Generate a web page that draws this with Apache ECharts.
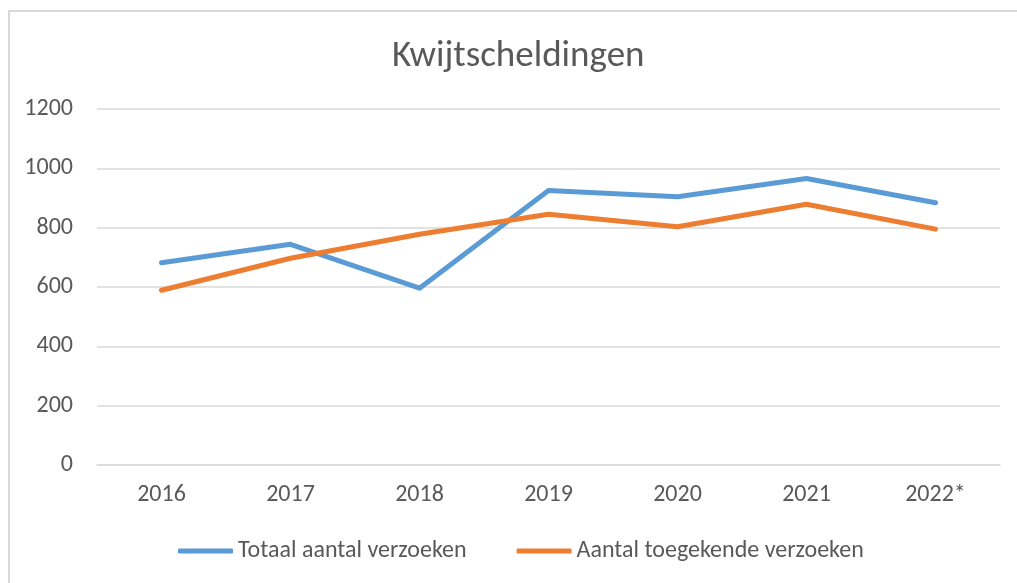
<!DOCTYPE html>
<html>
<head>
<meta charset="utf-8">
<script src="https://cdn.jsdelivr.net/npm/echarts@6/dist/echarts.min.js"></script>
<style>
  html, body { margin: 0; padding: 0; background: #fff; }
  #frame {
    position: absolute; left: 8px; top: 10px; width: 1009px; height: 573px;
    border-left: 2px solid #d9d9d9; border-top: 2px solid #d9d9d9;
  }
  #chart { position: absolute; left: 0; top: 0; width: 1017px; height: 583px; }
</style>
</head>
<body>
<div id="frame"></div>
<div id="chart"></div>
<script>
// gegevens
const years = ['2016', '2017', '2018', '2019', '2020', '2021', '2022*'];
const totaal = [682, 744, 596, 925, 904, 966, 884];
const toegekend = [589, 697, 778, 845, 803, 879, 795];
const yTicks = [0, 200, 400, 600, 800, 1000, 1200];

const textColor = '#595959';
const font = 'Carlito, "Liberation Sans", Arial, sans-serif';

const chart = echarts.init(document.getElementById('chart'));

chart.setOption({
  animation: false,
  title: {
    text: 'Kwijtscheldingen',
    left: 392,
    top: 38,
    padding: 0,
    textStyle: { fontFamily: font, fontSize: 37, fontWeight: 'normal', color: textColor }
  },
  legend: {
    left: 173,
    top: 534,
    itemWidth: 55,
    itemHeight: 5,
    itemGap: 50,
    textStyle: { fontFamily: font, fontSize: 24, color: textColor },
    data: [
      { name: 'Totaal aantal verzoeken', icon: 'roundRect' },
      { name: 'Aantal toegekende verzoeken', icon: 'roundRect' }
    ]
  },
  grid: { left: 97, right: 17, top: 109, bottom: 118 },
  xAxis: {
    type: 'category',
    data: years,
    boundaryGap: true,
    axisLine: { lineStyle: { color: '#d9d9d9', width: 1.5 } },
    axisTick: { show: false },
    axisLabel: { margin: 18, fontFamily: font, fontSize: 24, color: textColor }
  },
  yAxis: {
    type: 'value',
    min: yTicks[0],
    max: yTicks[yTicks.length - 1],
    interval: 200,
    axisLine: { show: false },
    axisTick: { show: false },
    splitLine: { lineStyle: { color: '#d9d9d9', width: 1.5 } },
    axisLabel: {
      margin: 24, fontFamily: font, fontSize: 24, color: textColor,
      formatter: v => String(v)
    }
  },
  series: [
    {
      name: 'Totaal aantal verzoeken',
      type: 'line',
      data: totaal,
      symbol: 'none',
      color: '#5b9bd5',
      lineStyle: { width: 5, cap: 'round', join: 'round' }
    },
    {
      name: 'Aantal toegekende verzoeken',
      type: 'line',
      data: toegekend,
      symbol: 'none',
      color: '#ed7d31',
      lineStyle: { width: 5, cap: 'round', join: 'round' }
    }
  ]
});
</script>
</body>
</html>
